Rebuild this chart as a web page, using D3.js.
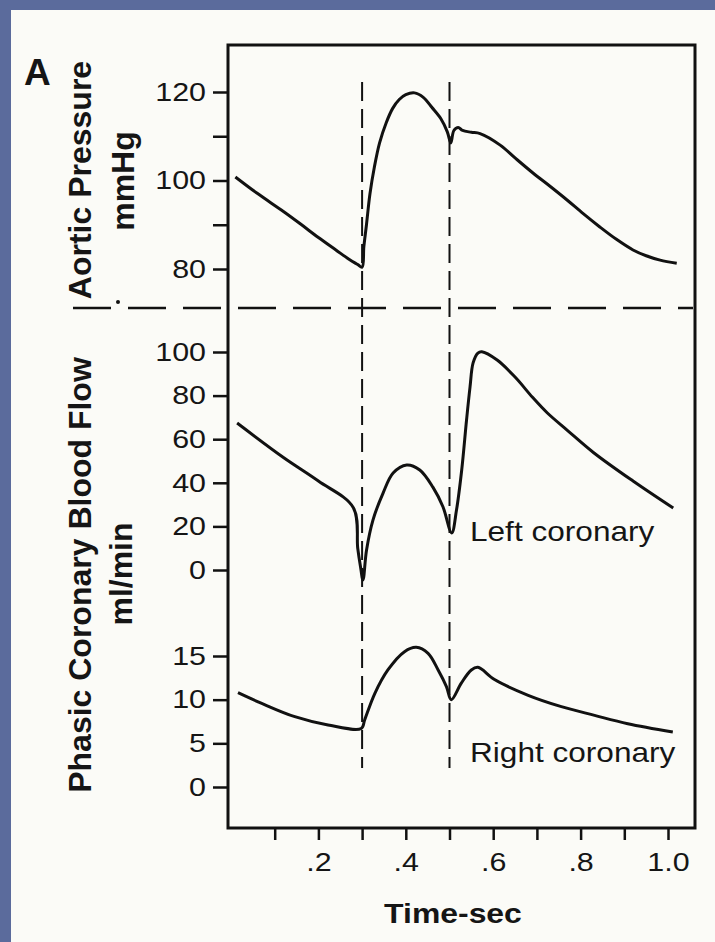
<!DOCTYPE html>
<html>
<head>
<meta charset="utf-8">
<script src="https://cdn.jsdelivr.net/npm/d3@7"></script>
<style>
  body { margin: 0; background: #fbfbf7; }
  svg { display: block; }
  text { font-family: "Liberation Sans", Arial, Helvetica, sans-serif; fill: #151515; }
</style>
</head>
<body>
<div id="chart"></div>
<script>
// time axis
var timeTicks = [0.1, 0.2, 0.3, 0.4, 0.5, 0.6, 0.7, 0.8, 0.9, 1.0];
var timeLabels = [0.2, 0.4, 0.6, 0.8, 1.0];
var markerTimes = [0.3, 0.5];

// aortic pressure (mmHg)
var aorticTicks = [80, 90, 100, 110, 120];
var aorticLabels = [80, 100, 120];
var aorticTime = [0.01, 0.06, 0.12, 0.16, 0.20, 0.24, 0.27, 0.29, 0.30, 0.304, 0.310, 0.318, 0.328, 0.340, 0.355, 0.370, 0.385, 0.400, 0.420, 0.440, 0.460, 0.480, 0.495, 0.503, 0.510, 0.520, 0.530, 0.550, 0.570, 0.616, 0.650, 0.691, 0.730, 0.769, 0.806, 0.844, 0.882, 0.920, 0.950, 0.982, 1.020];
var aorticValue = [100.8, 97.1, 93.0, 90.1, 87.1, 84.3, 82.2, 81.0, 80.4, 85, 90, 97, 103, 108.5, 113, 116.3, 118.3, 119.4, 119.8, 118.8, 116.5, 114, 111, 108.5, 111.3, 112, 111.3, 110.9, 110.6, 108, 105.1, 101.7, 98.7, 95.6, 92.5, 89.5, 86.7, 84.3, 83.0, 82.0, 81.3];

// left coronary flow (ml/min)
var leftTicks = [0, 20, 40, 60, 80, 100];
var leftTime = [0.014, 0.12, 0.20, 0.28, 0.29, 0.296, 0.302, 0.31, 0.325, 0.348, 0.371, 0.402, 0.432, 0.462, 0.485, 0.505, 0.516, 0.528, 0.539, 0.547, 0.554, 0.565, 0.574, 0.609, 0.650, 0.690, 0.724, 0.769, 0.830, 0.920, 1.012];
var leftValue = [67.4, 51.6, 40.8, 28.6, 10, 2, -4.6, 9, 23, 35.3, 44.5, 48.2, 45.9, 38, 29, 17, 27.5, 46, 68.8, 84, 95, 99.5, 100.1, 96.3, 88.5, 79.2, 72, 64.2, 53.8, 40.8, 28.4];

// right coronary flow (ml/min)
var rightTicks = [0, 5, 10, 15];
var rightTime = [0.016, 0.069, 0.146, 0.222, 0.298, 0.306, 0.329, 0.359, 0.397, 0.424, 0.451, 0.474, 0.493, 0.504, 0.527, 0.550, 0.565, 0.603, 0.680, 0.756, 0.832, 0.908, 1.011];
var rightValue = [10.8, 9.6, 8.05, 7.1, 6.7, 7.7, 10.7, 13.4, 15.5, 16.0, 15.3, 13.4, 11.5, 10.0, 11.9, 13.4, 13.7, 12.3, 10.5, 9.2, 8.2, 7.25, 6.3];

var W = 715, H = 942;
var box = {left: 228, right: 695, top: 45, bottom: 828};
var ink = "#111";
var sx = 1.17;

var svg = d3.select("#chart").append("svg").attr("width", W).attr("height", H);

// frame
svg.append("rect").attr("width", W).attr("height", H).attr("fill", "#5b6b9c");
svg.append("rect").attr("x", 11).attr("y", 10).attr("width", W - 11).attr("height", H - 10).attr("fill", "#fbfbf7");

var x = d3.scaleLinear().domain([0, 1]).range([231, 668]);
var yA = d3.scaleLinear().domain([80, 120]).range([269, 92]);
var yL = d3.scaleLinear().domain([0, 100]).range([570, 352]);
var yR = d3.scaleLinear().domain([0, 15]).range([787, 656]);

// plot box
svg.append("rect").attr("x", box.left).attr("y", box.top)
  .attr("width", box.right - box.left).attr("height", box.bottom - box.top)
  .attr("fill", "none").attr("stroke", ink).attr("stroke-width", 3);

function leftAxis(scale, ticks, labels) {
  var g = svg.append("g").attr("transform", "translate(" + box.left + ",0)")
    .call(d3.axisLeft(scale).tickValues(ticks).tickSize(15)
      .tickFormat(function(d) { return labels.indexOf(d) >= 0 ? d : ""; }));
  g.select(".domain").remove();
  g.selectAll(".tick line").attr("stroke", ink).attr("stroke-width", 2.5);
  g.selectAll(".tick text").attr("font-size", 26).attr("fill", "#151515")
    .attr("x", -22 / sx).attr("transform", "scale(" + sx + ",1)");
  return g;
}
leftAxis(yA, aorticTicks, aorticLabels);
leftAxis(yL, leftTicks, leftTicks);
leftAxis(yR, rightTicks, rightTicks);

var fmt = d3.format(".1f");
var gx = svg.append("g").attr("transform", "translate(0," + box.bottom + ")")
  .call(d3.axisBottom(x).tickValues(timeTicks).tickSize(12).tickPadding(13)
    .tickFormat(function(d) { return timeLabels.indexOf(d) >= 0 ? fmt(d).replace(/^0/, "") : ""; }));
gx.select(".domain").remove();
gx.selectAll(".tick line").attr("stroke", ink).attr("stroke-width", 2.5);
gx.selectAll(".tick text").attr("font-size", 26).attr("fill", "#151515")
  .attr("transform", "scale(" + sx + ",1)");

// dashed separators
svg.selectAll(".marker").data(markerTimes).enter().append("line")
  .attr("x1", function(d) { return x(d); }).attr("x2", function(d) { return x(d); })
  .attr("y1", 82).attr("y2", 768)
  .attr("stroke", ink).attr("stroke-width", 2).attr("stroke-dasharray", "19,8");
svg.append("line").attr("x1", 73).attr("x2", 693).attr("y1", 308).attr("y2", 308)
  .attr("stroke", ink).attr("stroke-width", 2.5).attr("stroke-dasharray", "38,17");
svg.append("circle").attr("cx", 118).attr("cy", 302).attr("r", 2).attr("fill", ink);

// curves
function drawCurve(ts, vs, scale) {
  var line = d3.line().x(function(d) { return x(d[0]); }).y(function(d) { return scale(d[1]); })
    .curve(d3.curveCatmullRom.alpha(0.5));
  svg.append("path").datum(d3.zip(ts, vs)).attr("d", line)
    .attr("fill", "none").attr("stroke", ink).attr("stroke-width", 3)
    .attr("stroke-linejoin", "round");
}
drawCurve(aorticTime, aorticValue, yA);
drawCurve(leftTime, leftValue, yL);
drawCurve(rightTime, rightValue, yR);

// labels
svg.append("text").text("A").attr("x", 24).attr("y", 85)
  .attr("font-size", 37).attr("font-weight", "bold");

function vTitle(txt, cx, cy) {
  svg.append("text").text(txt).attr("text-anchor", "middle")
    .attr("transform", "translate(" + cx + "," + cy + ") rotate(-90)")
    .attr("font-size", 32).attr("font-weight", "bold");
}
vTitle("Aortic Pressure", 91, 180);
vTitle("mmHg", 134, 181);
vTitle("Phasic Coronary Blood Flow", 91, 575);
vTitle("ml/min", 132, 574);

svg.append("text").text("Left coronary").attr("x", 470 / sx).attr("y", 541)
  .attr("font-size", 27).attr("transform", "scale(" + sx + ",1)");
svg.append("text").text("Right coronary").attr("x", 470 / sx).attr("y", 762)
  .attr("font-size", 27).attr("transform", "scale(" + sx + ",1)");

svg.append("text").text("Time-sec").attr("x", 453 / 1.14).attr("y", 923)
  .attr("text-anchor", "middle").attr("font-size", 28).attr("font-weight", "bold")
  .attr("transform", "scale(1.14,1)");
</script>
</body>
</html>
